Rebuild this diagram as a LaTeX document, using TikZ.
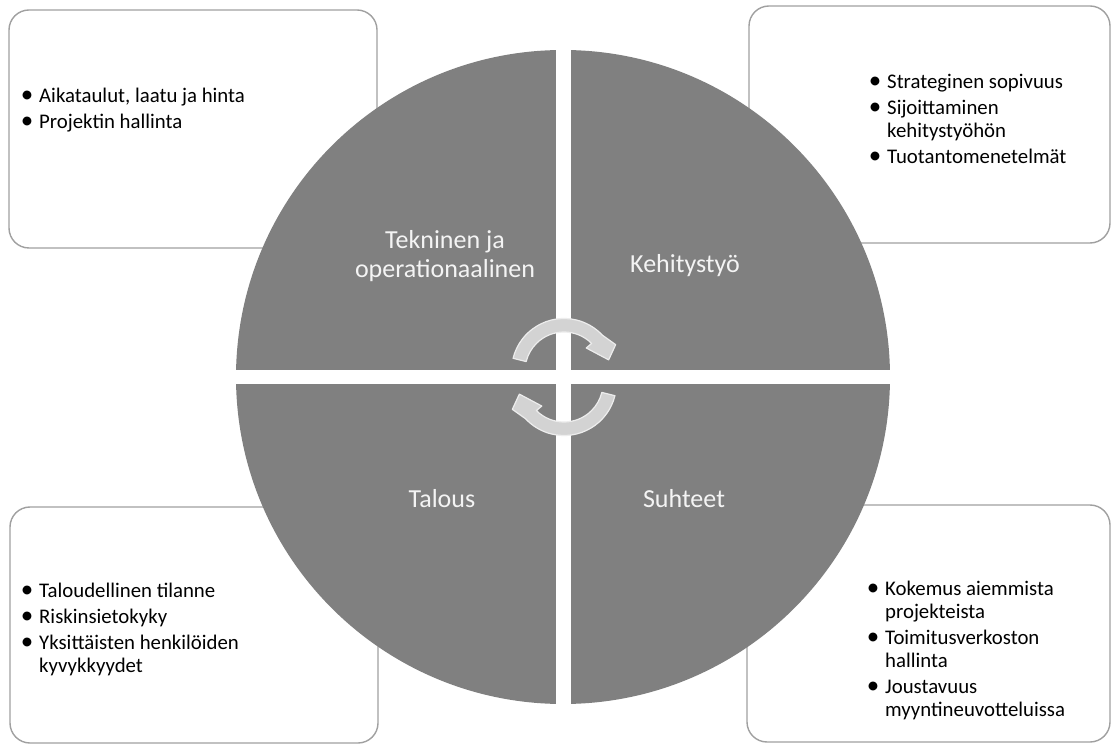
\documentclass[tikz,border=0pt]{standalone}
\usepackage{fontspec}
\setmainfont{Carlito}
\usetikzlibrary{calc}
\definecolor{quad}{HTML}{808080}
\definecolor{boxline}{HTML}{A0A0A0}
\definecolor{arrfill}{HTML}{D3D3D3}
\definecolor{arrline}{HTML}{EDEDED}
\definecolor{lbl}{HTML}{F4F4F4}
\newcommand{\bitem}[1]{\makebox[16pt][l]{\makebox[8pt][c]{\scalebox{1.2}{•}}}&#1}
\begin{document}
\begin{tikzpicture}[x=1pt,y=1pt,
  infobox/.style={draw=boxline, line width=1.4pt, fill=white, rounded corners=20pt, inner sep=0pt},
  bullets/.style={anchor=base west, inner sep=0pt, font=\fontsize{20.8}{23}\selectfont, text=black},
  qlabel/.style={anchor=base, inner sep=0pt, text=lbl, font=\fontsize{26}{29}\selectfont},
  cyclearrow/.style={fill=arrfill, draw=arrline, line width=1.2pt, line join=round}]
\useasboundingbox (0,0) rectangle (1113,745);
\fill[white] (0,0) rectangle (1113,745);
% boxes
\node[infobox, minimum width=368pt, minimum height=238pt] (tl) at (193,616) {};
\node[infobox, minimum width=361pt, minimum height=237pt] (tr) at (929.5,620.5) {};
\node[infobox, minimum width=368pt, minimum height=236pt] (bl) at (194,120) {};
\node[infobox, minimum width=363pt, minimum height=237pt] (br) at (928.5,121.5) {};
% circle quadrants
\coordinate (c) at (563,368);
\begin{scope}
  \clip (c) circle[radius=327];
  \fill[quad] ($(c)+(-340,7)$) rectangle ($(c)+(-7.5,340)$);
  \fill[quad] ($(c)+(7.5,7)$) rectangle ($(c)+(340,340)$);
  \fill[quad] ($(c)+(-340,-340)$) rectangle ($(c)+(-7.5,-7.5)$);
  \fill[quad] ($(c)+(7.5,-340)$) rectangle ($(c)+(340,-7.5)$);
\end{scope}
% cycle arrows
\begin{scope}[shift={(564,374)}]
  \draw[cyclearrow] (166:52.5) arc[start angle=166, end angle=43, radius=52.5]
    -- (27:58) -- (14:46) -- (46:32) -- (45:39)
    arc[start angle=45, end angle=166, radius=39] -- cycle;
\end{scope}
\begin{scope}[rotate around={180:(564,368)}]
 \begin{scope}[shift={(564,374)}]
  \draw[cyclearrow] (166:52.5) arc[start angle=166, end angle=43, radius=52.5]
    -- (27:58) -- (14:46) -- (46:32) -- (45:39)
    arc[start angle=45, end angle=166, radius=39] -- cycle;
 \end{scope}
\end{scope}
% quadrant labels
\node[qlabel] (q1) at (445,496) {\begin{tabular}[t]{@{}c@{}}Tekninen ja\\operationaalinen\end{tabular}};
\node[qlabel] (q2) at (685,472) {Kehitystyö};
\node[qlabel] (q3) at (442,238) {Talous};
\node[qlabel] (q4) at (684,238) {Suhteet};
% bullet texts
\node[bullets] (t1) at (23,642) {\begin{tabular}[t]{@{}l@{}l@{}}
\bitem{Aikataulut, laatu ja hinta}\\[3pt]
\bitem{Projektin hallinta}
\end{tabular}};
\node[bullets] (t2) at (871,656) {\begin{tabular}[t]{@{}l@{}l@{}}
\bitem{Strateginen sopivuus}\\[3pt]
\bitem{Sijoittaminen}\\
&kehitystyöhön\\[3pt]
\bitem{Tuotantomenetelmät}
\end{tabular}};
\node[bullets] (t3) at (23,148) {\begin{tabular}[t]{@{}l@{}l@{}}
\bitem{Taloudellinen tilanne}\\[3pt]
\bitem{Riskinsietokyky}\\[3pt]
\bitem{Yksittäisten henkilöiden}\\
&kyvykkyydet
\end{tabular}};
\node[bullets] (t4) at (869,150) {\begin{tabular}[t]{@{}l@{}l@{}}
\bitem{Kokemus aiemmista}\\
&projekteista\\[3pt]
\bitem{Toimitusverkoston}\\
&hallinta\\[3pt]
\bitem{Joustavuus}\\
&myyntineuvotteluissa
\end{tabular}};
\end{tikzpicture}
\end{document}
